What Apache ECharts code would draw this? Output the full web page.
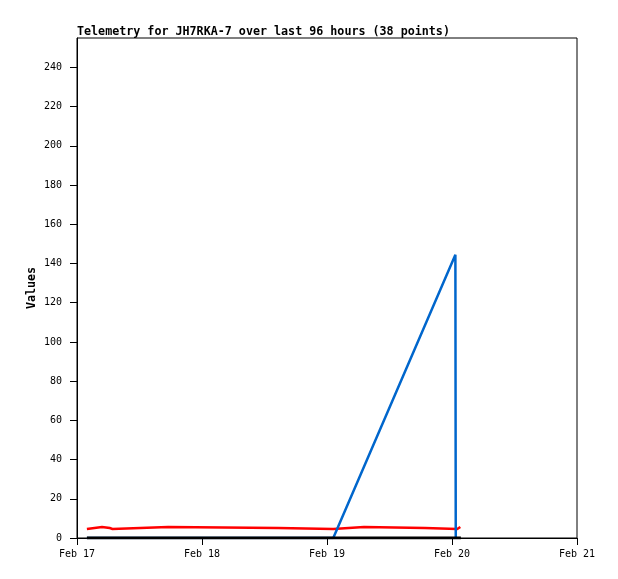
<!DOCTYPE html>
<html><head><meta charset="utf-8">
<script src="https://cdn.jsdelivr.net/npm/echarts@6/dist/echarts.min.js"></script>
<style>html,body{margin:0;padding:0;background:#fff}#c{width:618px;height:579px}</style>
</head><body><div id="c"></div>
<script>
// x values are hours since Feb 17 00:00
const xTickLabels = ["Feb 17", "Feb 18", "Feb 19", "Feb 20", "Feb 21"];
const yTicks = [0, 20, 40, 60, 80, 100, 120, 140, 160, 180, 200, 220, 240];
const redHours  = [1.9, 1.9, 4.8, 4.8, 6.3, 6.3, 6.8, 6.8, 17.5, 17.5, 38.6, 38.6, 49.2, 49.2, 55.1, 55.1, 66.8, 66.8, 73.0, 73.0, 73.6];
const redValues = [4.6, 5.6, 5.6, 5.1, 5.1, 4.6, 4.6, 5.6, 5.6, 5.1, 5.1, 4.6, 4.6, 5.6, 5.6, 5.1, 5.1, 4.6, 4.6, 5.6, 5.6];
const blueHours  = [1.9, 49.2, 72.65, 72.72];
const blueValues = [0, 0, 144.5, 0];
const blackHours  = [1.9, 73.7];
const blackValues = [0, 0];

const pairs = (xs, ys) => xs.map((x, i) => [x, ys[i]]);
const mono = '"DejaVu Sans Mono", "Liberation Mono", monospace';

const chart = echarts.init(document.getElementById('c'), null, {renderer: 'canvas'});
chart.setOption({
  animation: false,
  backgroundColor: '#fff',
  title: {
    text: 'Telemetry for JH7RKA-7 over last 96 hours (38 points)',
    left: 72, top: 21,
    textStyle: {fontFamily: mono, fontSize: 11.7, fontWeight: 'bold', color: '#000'}
  },
  grid: {left: 77, right: 41, top: 38, bottom: 41, show: true, borderColor: '#000', borderWidth: 1, backgroundColor: 'transparent'},
  xAxis: {
    type: 'value', min: 0, max: 96, interval: 24,
    axisLine: {show: true, lineStyle: {color: '#000', width: 1}},
    axisTick: {show: true, length: 7, lineStyle: {color: '#000'}},
    axisLabel: {
      margin: 11, color: '#000', fontFamily: mono, fontSize: 10,
      formatter: v => xTickLabels[Math.round(v / 24)] || ''
    },
    splitLine: {show: false}
  },
  yAxis: {
    type: 'value', min: 0, max: 255,
    name: 'Values', nameLocation: 'middle', nameGap: 39, nameRotate: 90, nameMoveOverlap: false,
    nameTextStyle: {fontFamily: mono, fontSize: 11.7, fontWeight: 'bold', color: '#000'},
    axisLine: {show: true, lineStyle: {color: '#000', width: 1}},
    axisTick: {show: true, length: 7, lineStyle: {color: '#000'}, customValues: yTicks},
    axisLabel: {margin: 15, color: '#000', fontFamily: mono, fontSize: 10, customValues: yTicks},
    splitLine: {show: false}
  },
  series: [
    {type: 'line', data: pairs(redHours, redValues), symbol: 'none',
     lineStyle: {color: '#ff0000', width: 2.5, join: 'miter', cap: 'butt'}, z: 2},
    {type: 'line', data: pairs(blueHours, blueValues), symbol: 'none',
     lineStyle: {color: '#0066cc', width: 2.5}, z: 3},
    {type: 'line', data: pairs(blackHours, blackValues), symbol: 'none',
     lineStyle: {color: '#000000', width: 3}, z: 4}
  ]
});
</script></body></html>
